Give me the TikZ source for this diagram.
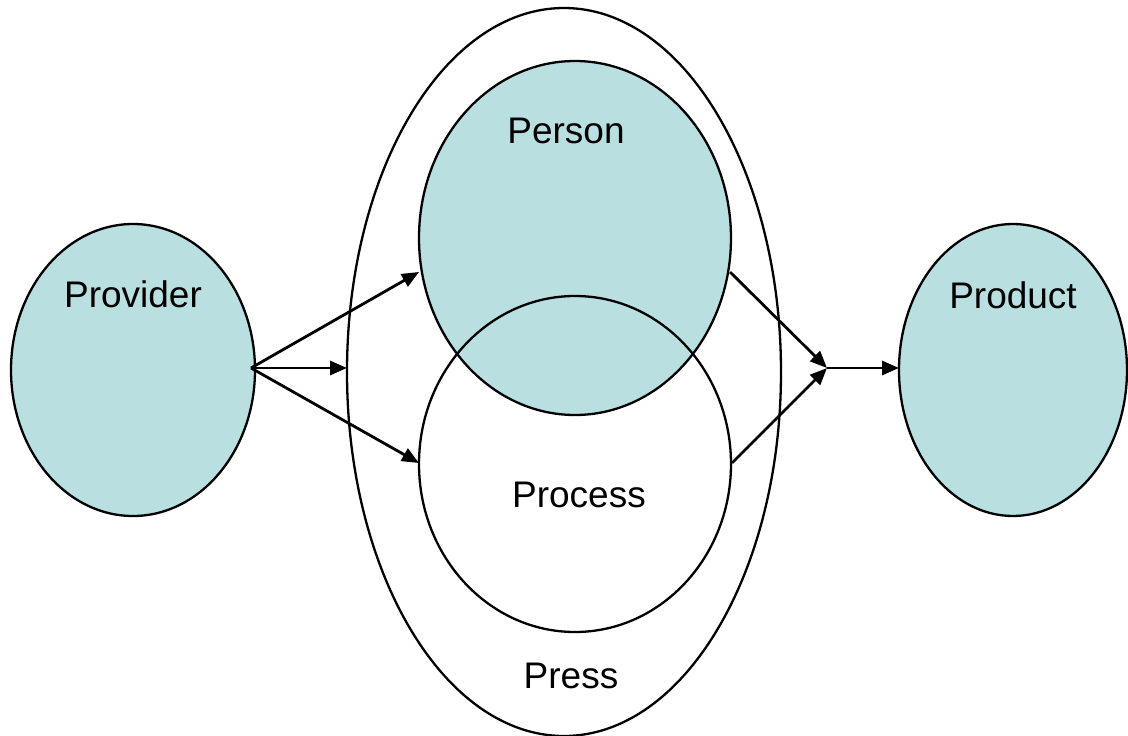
\documentclass[tikz,border=0pt]{standalone}
\usepackage{fontspec}
\setmainfont{Liberation Sans}
\usetikzlibrary{shapes.geometric,arrows.meta}
\definecolor{pale}{HTML}{B9DFE1}
\tikzset{
  oval/.style={ellipse, draw=black, line width=2.3pt, inner sep=0pt},
  lbl/.style={anchor=base, font=\fontsize{37}{44}\selectfont, inner sep=0pt},
  arr/.style={line width=2.8pt, -{Triangle[length=17pt,width=14pt]}},
}
\begin{document}
\begin{tikzpicture}[x=1pt,y=-1pt]
\useasboundingbox (0,0) rectangle (1128,736);
\node[oval, fill=pale, minimum width=244pt, minimum height=292pt] (provider) at (133,370) {};
\node[oval, minimum width=434pt, minimum height=728pt] (press) at (564,372) {};
\node[oval, fill=pale, minimum width=312pt, minimum height=354pt] (person) at (575,238) {};
\node[oval, minimum width=312pt, minimum height=336pt] (process) at (575,464) {};
\node[oval, fill=pale, minimum width=228pt, minimum height=292pt] (product) at (1013,370) {};
\node[lbl] (tprovider) at (133,307) {Provider};
\node[lbl] (tperson) at (566,143) {Person};
\node[lbl] (tprocess) at (579,507) {Process};
\node[lbl] (tpress) at (571,688) {Press};
\node[lbl] (tproduct) at (1013,308) {Product};
\coordinate (src) at (251,368);
\coordinate (pA) at (419,272);
\coordinate (pB) at (347,368);
\coordinate (pC) at (419,463);
\coordinate (qA) at (730,272);
\coordinate (qC) at (732,463);
\coordinate (join) at (827,368);
\coordinate (prodL) at (899,368);
\draw[arr] (src) -- (pA);
\draw[arr] (src) -- (pB);
\draw[arr] (src) -- (pC);
\draw[arr] (qA) -- (join);
\draw[arr] (qC) -- (join);
\draw[arr] (join) -- (prodL);
\end{tikzpicture}
\end{document}
